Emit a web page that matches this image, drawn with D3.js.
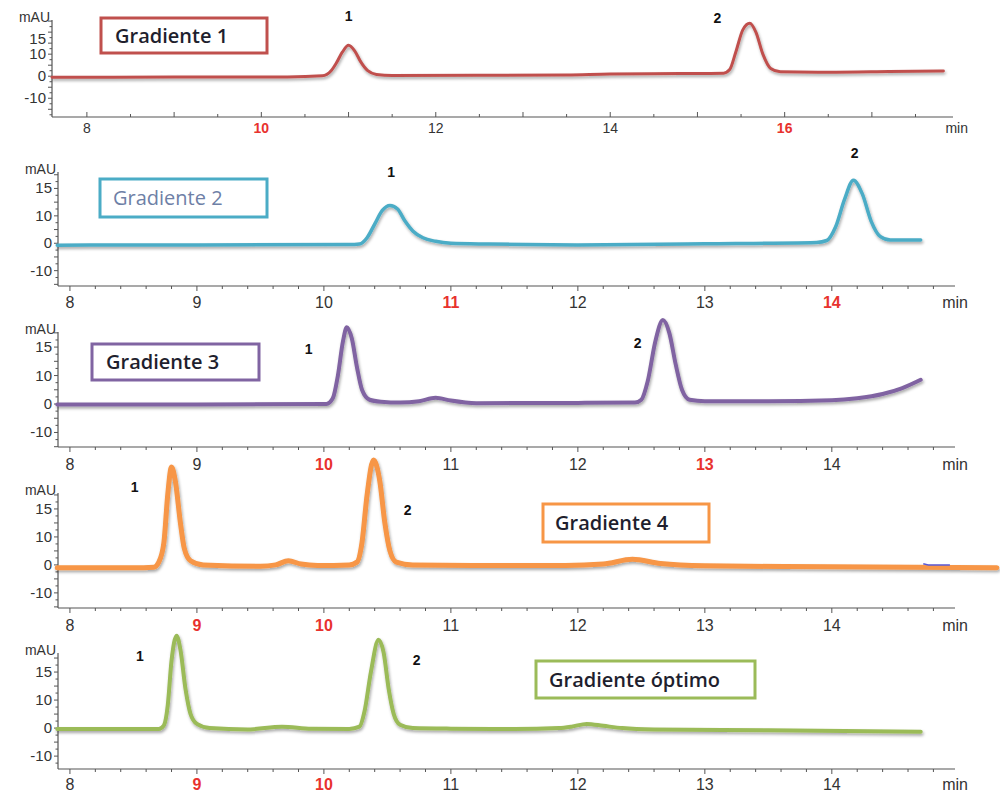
<!DOCTYPE html>
<html>
<head>
<meta charset="utf-8">
<script src="https://cdn.jsdelivr.net/npm/d3@7"></script>
<style>
  body { margin: 0; background: #fff; }
  svg { display: block; }
</style>
</head>
<body>
<svg></svg>
<script>
const size = {w: 1000, h: 793};
const svg = d3.select('svg').attr('width', size.w).attr('height', size.h);

// ---- data: [time (min), signal (mAU)] ----
const gradiente1 = [
  [7.6,-0.5],[9,-0.4],[10.3,-0.3],[10.7,0.2],[10.8,2.5],[10.86,6],[10.93,11],[11.0,14],
  [11.07,11.5],[11.14,6.5],[11.22,2.5],[11.32,0.8],[11.5,0.3],[12.5,0.4],[13.5,0.6],
  [14,1.0],[14.8,1.2],[15.3,1.4],[15.37,3],[15.44,11],[15.52,21],[15.6,24],[15.67,20],
  [15.75,10],[15.84,3.5],[15.95,2],[16.5,1.8],[17.2,2.1],[17.82,2.4]
];
const gradiente2 = [
  [7.9,-0.7],[9,-0.6],[10.2,-0.5],[10.28,-0.3],[10.34,2],[10.4,7],[10.46,12],[10.52,13.8],
  [10.58,12.5],[10.64,8],[10.7,4.5],[10.78,2],[10.88,0.7],[11.0,0],[11.3,-0.3],[12,-0.6],
  [13,-0.2],[13.88,0.3],[13.96,1],[14.03,6],[14.1,16],[14.17,23],[14.24,18],[14.31,8],
  [14.38,2.5],[14.46,1.2],[14.7,1.2]
];
const gradiente3 = [
  [7.9,-0.2],[9,-0.2],[10.02,0],[10.07,2],[10.11,10],[10.15,22],[10.18,27],[10.22,23],
  [10.26,13],[10.3,5],[10.36,1.5],[10.45,0.8],[10.6,0.5],[10.75,1],[10.88,2.2],[11.0,1.2],
  [11.2,0.3],[12,0.4],[12.45,0.5],[12.5,1.5],[12.55,8],[12.61,22],[12.67,29.5],[12.72,25],
  [12.77,14],[12.82,5],[12.88,1.5],[13.0,1],[13.5,1],[14.0,1.3],[14.2,2],[14.4,3.5],
  [14.55,5.5],[14.7,8.5]
];
const gradiente4 = [
  [7.9,-1],[8.5,-1],[8.66,-0.8],[8.7,1],[8.74,8],[8.77,25],[8.8,35],[8.83,30],[8.87,15],
  [8.9,6],[8.95,1.5],[9.05,0],[9.5,-0.5],[9.62,0],[9.72,1.5],[9.82,0.3],[9.95,-0.2],
  [10.2,0],[10.26,1],[10.3,8],[10.34,25],[10.39,37.5],[10.44,30],[10.48,15],[10.52,5],
  [10.57,1],[10.7,0],[11.3,-0.2],[11.9,-0.2],[12.2,0.3],[12.43,2],[12.65,0.5],[13,-0.3],
  [14,-0.7],[15.3,-1]
];
const gradiente4Extra = [[14.72,0.4],[14.76,0],[14.93,0]];
const gradienteOptimo = [
  [7.9,-0.3],[8.5,-0.3],[8.7,-0.3],[8.74,1],[8.77,8],[8.8,24],[8.84,33],[8.87,28],
  [8.91,14],[8.95,5],[9.0,1.5],[9.1,0],[9.4,-0.5],[9.67,0.5],[9.9,-0.2],[10.2,-0.3],
  [10.28,0.5],[10.32,6],[10.37,20],[10.43,31.5],[10.47,27],[10.51,14],[10.55,5],[10.6,1.2],
  [10.7,0],[11,-0.2],[11.5,-0.3],[11.85,0],[11.95,0.5],[12.07,1.5],[12.2,0.8],[12.35,0],
  [12.6,-0.5],[13.5,-0.8],[14.7,-1.3]
];

// y tick labels as printed, and the level where each one sits on the original axis
const yLabels = ['15', '10', '0', '-10'];
const yLabelPos = [[17, 10, 0, -10], [20, 10, 0, -10], [20, 10, 0, -10], [20, 10, 0, -10], [20, 10, 0, -10]];
const names = ['Gradiente 1', 'Gradiente 2', 'Gradiente 3', 'Gradiente 4', 'Gradiente óptimo'];
const xLabels1 = [8, 10, 12, 14, 16];
const xLabels = [8, 9, 10, 11, 12, 13, 14];
const redLabels = [[10, 16], [11, 14], [10, 13], [9, 10], [9, 10]];
const peakLabels = [
  [['1', 11.0, 25], ['2', 15.23, 24]],
  [['1', 10.53, 24], ['2', 14.18, 31]],
  [['1', 9.88, 17.5], ['2', 12.47, 19.6]],
  [['1', 8.51, 26], ['2', 10.66, 18]],
  [['1', 8.55, 23.9], ['2', 10.73, 22.5]]
];

// ---- layout for each panel ----
const panels = [
  {data: gradiente1, color: '#c0504d', lw: 3, x0: 52, x1: 953, xd: [7.6, 17.93], yr: [117, 20], yd: [-18.5, 25.5],
   ticks: xLabels1, minor: 0.5, tickUp: true, labY: 133, fs: 14,
   box: {x: 101, y: 18, w: 166, h: 35, tx: 115, ty: 43, col: '#1f1f2e', fw: 600}},
  {data: gradiente2, color: '#4bacc6', lw: 3.5, x0: 58, x1: 955, xd: [7.906, 14.97], yr: [286, 172], yd: [-15.6, 26],
   ticks: xLabels, minor: 0.2, labY: 308, fs: 16,
   box: {x: 100, y: 179, w: 167, h: 38, tx: 113, ty: 205, col: '#6e80a6', fw: 400}},
  {data: gradiente3, color: '#8064a2', lw: 4, x0: 58, x1: 955, xd: [7.906, 14.97], yr: [447, 332], yd: [-15.1, 25.3],
   ticks: xLabels, minor: 0.2, labY: 470, fs: 16,
   box: {x: 92, y: 344, w: 167, h: 36, tx: 106, ty: 369, col: '#1f1f2e', fw: 600}},
  {data: gradiente4, color: '#f79646', lw: 5, x0: 58, x1: 955, xd: [7.906, 14.97], yr: [608, 493], yd: [-15.4, 25.7],
   ticks: xLabels, minor: 0.2, labY: 631, fs: 16,
   box: {x: 543, y: 504, w: 166, h: 38, tx: 555, ty: 530, col: '#1f1f2e', fw: 600}},
  {data: gradienteOptimo, color: '#9bbb59', lw: 4, x0: 58, x1: 955, xd: [7.906, 14.97], yr: [769, 653], yd: [-14.6, 26.8],
   ticks: xLabels, minor: 0.2, labY: 790, fs: 16,
   box: {x: 536, y: 661, w: 219, h: 37, tx: 549, ty: 687, col: '#1f1f2e', fw: 600}}
];

// soft drop shadow under the traces
const defs = svg.append('defs');
defs.append('filter').attr('id', 'shadow')
    .attr('x', '-5%').attr('y', '-20%').attr('width', '110%').attr('height', '140%')
  .append('feDropShadow')
    .attr('dx', 1).attr('dy', 2).attr('stdDeviation', 1.8)
    .attr('flood-color', '#000').attr('flood-opacity', 0.35);

const sans = 'Liberation Sans, Arial, sans-serif';

panels.forEach(function(p, i) {
  const g = svg.append('g').classed('panel', true);
  const x = d3.scaleLinear().domain(p.xd).range([p.x0, p.x1]);
  const y = d3.scaleLinear().domain(p.yd).range(p.yr);

  // x axis line + ticks
  const axisY = p.yr[0];
  g.append('line')
    .attr('x1', p.x0).attr('x2', p.x1).attr('y1', axisY).attr('y2', axisY)
    .attr('stroke', '#555').attr('stroke-width', 1.2);
  const minorTicks = d3.range(Math.ceil(p.xd[0] / p.minor) * p.minor, p.xd[1], p.minor);
  const dir = p.tickUp ? -1 : 1;
  g.selectAll('line.xt')
    .data(minorTicks)
    .join('line').classed('xt', true)
    .attr('x1', d => x(d)).attr('x2', d => x(d))
    .attr('y1', axisY)
    .attr('y2', d => axisY + dir * (Math.abs(d - Math.round(d)) < 1e-6 ? 5 : 3))
    .attr('stroke', '#555').attr('stroke-width', 1);
  g.selectAll('text.xl')
    .data(p.ticks)
    .join('text').classed('xl', true)
    .attr('x', d => x(d)).attr('y', p.labY)
    .attr('text-anchor', 'middle')
    .attr('font-family', sans)
    .attr('font-size', p.fs)
    .attr('font-weight', d => redLabels[i].includes(d) ? 'bold' : 'normal')
    .attr('fill', d => redLabels[i].includes(d) ? '#e8322e' : '#333')
    .text(d => d);
  g.append('text')
    .attr('x', 968).attr('y', p.labY)
    .attr('text-anchor', 'end')
    .attr('font-family', sans)
    .attr('font-size', p.fs).attr('fill', '#333')
    .text('min');

  // y axis line + ticks
  g.append('line')
    .attr('x1', p.x0).attr('x2', p.x0).attr('y1', p.yr[0]).attr('y2', p.yr[1])
    .attr('stroke', '#555').attr('stroke-width', 1.2);
  const yMinor = d3.range(Math.ceil(p.yd[0] / 2.5) * 2.5, p.yd[1], 2.5);
  g.selectAll('line.yt')
    .data(yMinor)
    .join('line').classed('yt', true)
    .attr('x1', p.x0)
    .attr('x2', d => p.x0 - (d % 5 === 0 ? 4 : 2.5))
    .attr('y1', d => y(d)).attr('y2', d => y(d))
    .attr('stroke', '#555').attr('stroke-width', 1);
  g.selectAll('text.yl')
    .data(yLabels)
    .join('text').classed('yl', true)
    .attr('x', p.x0 - 6).attr('y', (d, k) => y(yLabelPos[i][k]) + 5)
    .attr('text-anchor', 'end')
    .attr('font-family', sans)
    .attr('font-size', 15).attr('fill', '#333')
    .text(d => d);
  g.append('text')
    .attr('x', p.x0 - 2).attr('y', p.yr[1] + 2)
    .attr('text-anchor', 'end')
    .attr('font-family', sans)
    .attr('font-size', 14).attr('fill', '#333')
    .text('mAU');

  // legend box
  g.append('rect')
    .attr('x', p.box.x).attr('y', p.box.y)
    .attr('width', p.box.w).attr('height', p.box.h)
    .attr('fill', '#fff').attr('stroke', p.color).attr('stroke-width', 3);
  g.append('text')
    .attr('x', p.box.tx).attr('y', p.box.ty)
    .attr('font-family', 'Open Sans, sans-serif')
    .attr('font-size', 20).attr('font-weight', p.box.fw)
    .attr('fill', p.box.col)
    .text(names[i]);

  // trace
  const line = d3.line()
    .x(d => x(d[0])).y(d => y(d[1]))
    .curve(d3.curveMonotoneX);
  g.append('path')
    .datum(p.data)
    .attr('d', line)
    .attr('fill', 'none')
    .attr('stroke', p.color).attr('stroke-width', p.lw)
    .attr('stroke-linejoin', 'round').attr('stroke-linecap', 'round')
    .attr('filter', 'url(#shadow)');
  if (i === 3) {
    g.append('path')
      .datum(gradiente4Extra)
      .attr('d', line)
      .attr('fill', 'none')
      .attr('stroke', '#5a5ad8').attr('stroke-width', 1.5);
  }

  // peak numbers
  g.selectAll('text.pk')
    .data(peakLabels[i])
    .join('text').classed('pk', true)
    .attr('x', d => x(d[1])).attr('y', d => y(d[2]))
    .attr('text-anchor', 'middle')
    .attr('font-family', sans)
    .attr('font-size', 14).attr('font-weight', 'bold').attr('fill', '#111')
    .text(d => d[0]);
});
</script>
</body>
</html>
